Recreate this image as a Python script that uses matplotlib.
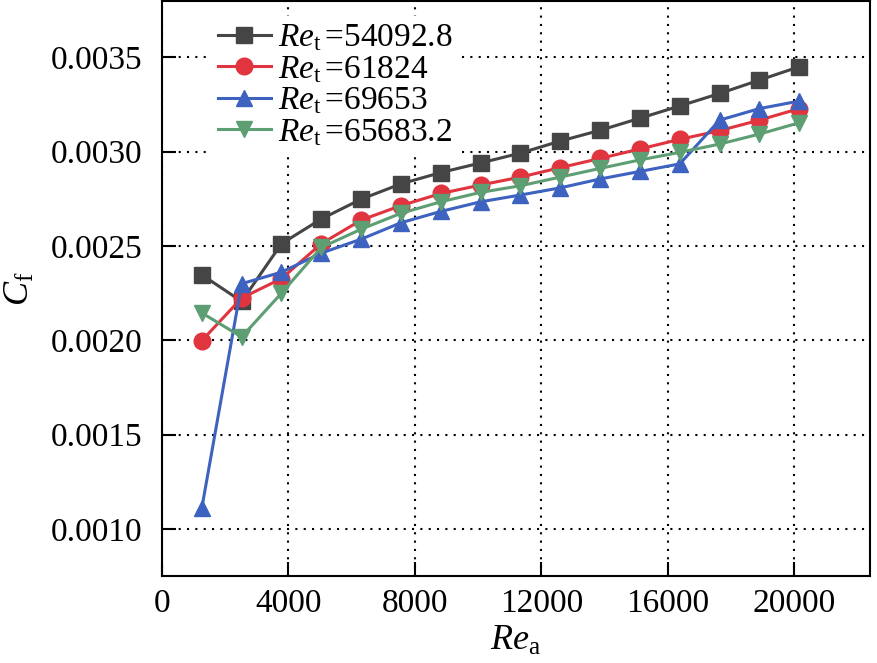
import matplotlib
matplotlib.use("Agg")
import matplotlib.pyplot as plt

plt.rcParams['font.family'] = ['Liberation Serif', 'DejaVu Serif']
plt.rcParams['mathtext.fontset'] = 'custom'
plt.rcParams['mathtext.rm'] = 'Liberation Serif'
plt.rcParams['mathtext.it'] = 'Liberation Serif:italic'

re_a = [1260, 2520, 3780, 5040, 6300, 7560, 8820, 10080, 11340, 12600,
        13860, 15120, 16380, 17640, 18900, 20160]
cf_54092 = [0.002347, 0.002206, 0.002512, 0.002643, 0.002748, 0.002829, 0.002889, 0.002940,
            0.002992, 0.003056, 0.003113, 0.003177, 0.003242, 0.003308, 0.003379, 0.003450]
cf_61824 = [0.001998, 0.002224, 0.002327, 0.002512, 0.002637, 0.002714, 0.002778, 0.002823,
            0.002865, 0.002915, 0.002964, 0.003014, 0.003065, 0.003111, 0.003167, 0.003228]
cf_69653 = [0.001111, 0.002300, 0.002361, 0.002462, 0.002536, 0.002623, 0.002683, 0.002734,
            0.002770, 0.002808, 0.002855, 0.002895, 0.002935, 0.003167, 0.003228, 0.003268]
cf_65683 = [0.002145, 0.002018, 0.002250, 0.002492, 0.002589, 0.002673, 0.002734, 0.002784,
            0.002819, 0.002865, 0.002911, 0.002956, 0.002996, 0.003040, 0.003093, 0.003153]

series = [
    (cf_54092, '54092.8', '#454545', 's', 11),
    (cf_61824, '61824', '#e0343f', 'o', 12),
    (cf_69653, '69653', '#3d62c0', '^', 12),
    (cf_65683, '65683.2', '#5d9e73', 'v', 12),
]
x_ticks = [0, 4000, 8000, 12000, 16000, 20000]
y_ticks = [0.0010, 0.0015, 0.0020, 0.0025, 0.0030, 0.0035]

fig = plt.figure(figsize=(8.78, 6.63), dpi=100)
ax = fig.add_axes([0.1845, 0.131, 0.8065, 0.868])

for ys, lab, col, mk, ms in series:
    ax.plot(re_a, ys, color=col, marker=mk, markersize=ms, linewidth=2.2,
            label=r'$\mathit{Re}_{\mathrm{t}}\,$=' + lab)

ax.set_xlim(0, 22400)
ax.set_ylim(0.00075, 0.0038)
ax.set_xticks(x_ticks)
ax.set_yticks(y_ticks)
ax.set_yticklabels([f'{v:.4f}' for v in y_ticks])
ax.tick_params(direction='in', length=10, width=1.5, labelsize=24)
ax.tick_params(axis='y', pad=14)
ax.tick_params(axis='x', pad=9)
ax.grid(True, linestyle=(0, (1, 3)), color='black', linewidth=1.5)
for s in ax.spines.values():
    s.set_linewidth(1.5)

ax.set_xlabel(r'$\mathit{Re}_{\mathrm{a}}$', fontsize=26, labelpad=4)
ax.set_ylabel(r'$\mathit{C}_{\mathrm{f}}$', fontsize=26, labelpad=10)

leg = ax.legend(loc='upper left', bbox_to_anchor=(0.06, 0.985), fontsize=24,
                frameon=True, framealpha=1, edgecolor='none', fancybox=False,
                handlelength=1.6, handletextpad=0.2, labelspacing=0.02,
                borderpad=0.2, borderaxespad=0.2)

fig.savefig('out.png', dpi=100)
